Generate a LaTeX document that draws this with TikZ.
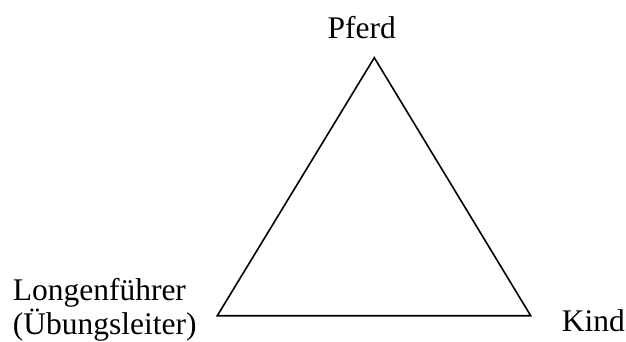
\documentclass[tikz,border=0pt]{standalone}
\usepackage{fontspec}
\setmainfont{Liberation Serif}
\begin{document}
\begin{tikzpicture}[x=1pt,y=1pt,
  lbl/.style={inner sep=0pt, anchor=base west, font=\fontsize{31.5}{33.5}\selectfont},
  edge/.style={line width=1.6pt, line join=miter}]
\useasboundingbox (0,0) rectangle (626,341);
\coordinate (apex) at (374.3,283.3);
\coordinate (left) at (217.3,25.3);
\coordinate (right) at (530.7,25.3);
\draw[edge] (apex) -- (left) -- (right) -- cycle;
\node[lbl] (pferd) at (327.5,303) {Pferd};
\node[lbl, align=left] (longe) at (12.6,7) {Longenführer\\(Übungsleiter)};
\node[lbl] (kind) at (561.6,10) {Kind};
\end{tikzpicture}
\end{document}
